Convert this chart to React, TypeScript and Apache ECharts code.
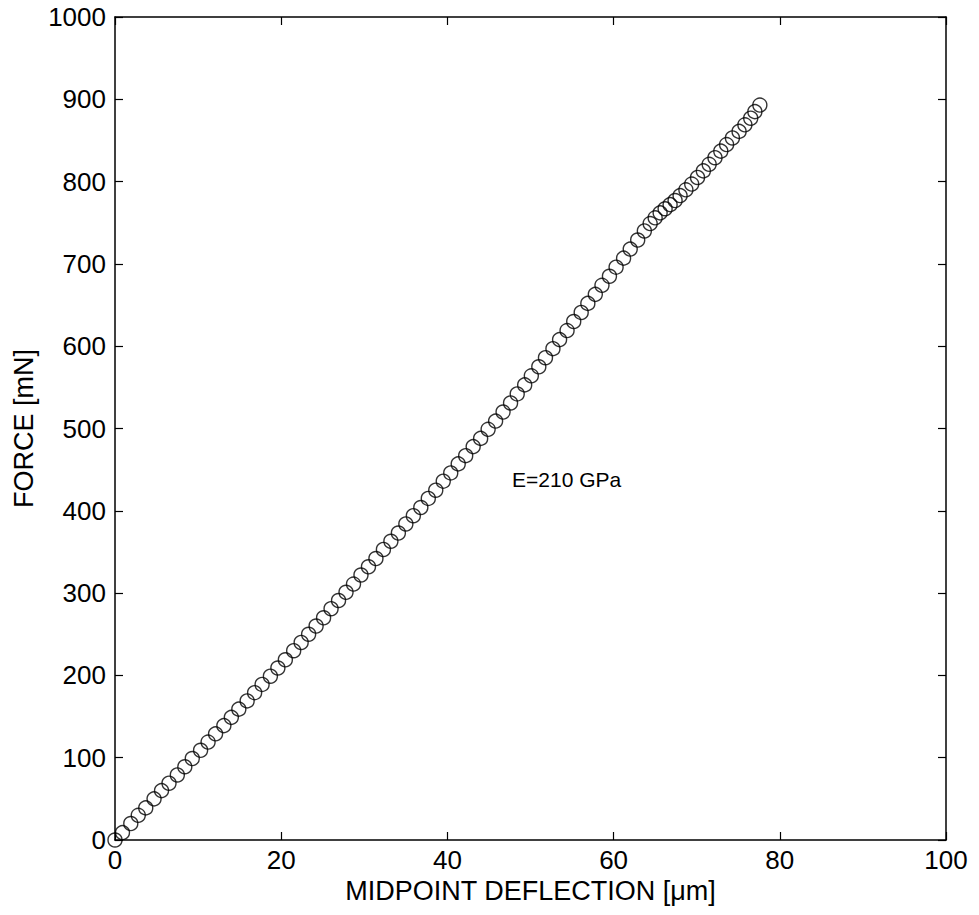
import React, { useEffect, useRef } from "react";
import * as echarts from "echarts";

const deflection: number[] = [
  0, 0.9, 1.9, 2.8, 3.7, 4.7, 5.6, 6.5, 7.5, 8.4, 9.3, 10.3, 11.2, 12.1, 13.1, 14.0, 14.9, 15.9, 16.8, 17.7, 18.7, 19.6, 20.5, 21.5, 22.4, 23.3,
  24.2, 25.1, 26.0, 26.9, 27.8, 28.7, 29.6, 30.5, 31.4, 32.3, 33.2, 34.1, 35.0, 35.9, 36.8, 37.7, 38.6, 39.5, 40.4, 41.3, 42.2, 43.1, 44.0, 44.9, 45.8,
  46.7, 47.6, 48.4, 49.3, 50.1, 51.0, 51.8, 52.7, 53.5, 54.4, 55.2, 56.1, 56.9, 57.8, 58.6, 59.5, 60.3, 61.2, 62.0, 62.9, 63.7,
  64.4, 65.0, 65.6, 66.2, 66.8, 67.4, 68.0, 68.7, 69.4, 70.1, 70.8, 71.5, 72.2, 72.9, 73.6, 74.3, 75.1, 75.8, 76.5, 77.0, 77.6,
];
const force: number[] = [
  0, 9, 20, 30, 39, 50, 60, 69, 79, 89, 99, 109, 119, 129, 139, 149, 159, 169, 179, 189, 199, 209, 219, 230, 240, 250,
  260, 270, 281, 291, 301, 311, 322, 332, 342, 353, 363, 373, 384, 394, 404, 415, 425, 436, 446, 457, 467, 478, 488, 499, 509,
  520, 531, 542, 553, 564, 575, 586, 597, 608, 619, 630, 641, 652, 663, 674, 685, 696, 707, 718, 729, 740,
  749, 756, 762, 767, 772, 777, 783, 790, 797, 805, 813, 821, 829, 837, 845, 853, 861, 869, 877, 885, 893,
];
const xTicks = { min: 0, max: 100, interval: 20 };
const yTicks = { min: 0, max: 1000, interval: 100 };
const xTitle = "MIDPOINT DEFLECTION [\u03bcm]";
const yTitle = "FORCE [mN]";
const annotation = "E=210 GPa";

const FONT = "'Liberation Sans', Arial, Helvetica, sans-serif";

export default function App() {
  const ref = useRef<HTMLDivElement>(null);
  useEffect(() => {
    if (!ref.current) return;
    const chart = echarts.init(ref.current, undefined, { renderer: "svg" });
    const points = deflection.map((x, i) => [x, force[i]]);
    const axisLine = { show: true, onZero: false, lineStyle: { color: "#000", width: 1.5 } };
    const tick = { show: true, inside: true, length: 8, lineStyle: { color: "#000", width: 1.2 } };
    const label = {
      color: "#000", fontSize: 26, fontFamily: FONT,
      formatter: (v: number) => String(v),
    };
    chart.setOption({
      animation: false,
      backgroundColor: "#fff",
      grid: { left: 115, right: 33, top: 17, bottom: 75, containLabel: false },
      xAxis: [
        {
          type: "value", position: "bottom", ...xTicks,
          axisLine, axisTick: tick, splitLine: { show: false },
          axisLabel: { ...label, margin: 7 },
          name: xTitle, nameLocation: "middle", nameGap: 32,
          nameTextStyle: { color: "#000", fontSize: 27, fontFamily: FONT },
        },
        {
          type: "value", position: "top", ...xTicks,
          axisLine, axisTick: tick, splitLine: { show: false }, axisLabel: { show: false },
        },
      ],
      yAxis: [
        {
          type: "value", position: "left", ...yTicks,
          axisLine, axisTick: tick, splitLine: { show: false },
          axisLabel: { ...label, margin: 9 },
          name: yTitle, nameLocation: "middle", nameGap: 74, nameRotate: 90,
          nameTextStyle: { color: "#000", fontSize: 27, fontFamily: FONT },
        },
        {
          type: "value", position: "right", ...yTicks,
          axisLine, axisTick: tick, splitLine: { show: false }, axisLabel: { show: false },
        },
      ],
      series: [
        {
          type: "scatter",
          data: points,
          symbol: "circle",
          symbolSize: 14,
          itemStyle: { color: "rgba(0,0,0,0)", borderColor: "#000", borderWidth: 1.4 },
          emphasis: { disabled: true },
        },
      ],
      graphic: [
        {
          type: "text",
          left: 512,
          top: 469,
          style: { text: annotation, fill: "#000", fontSize: 21, fontFamily: FONT },
        },
      ],
    });
    return () => chart.dispose();
  }, []);
  return <div ref={ref} style={{ position: "fixed", left: 0, top: 0, width: 979, height: 915 }} />;
}
